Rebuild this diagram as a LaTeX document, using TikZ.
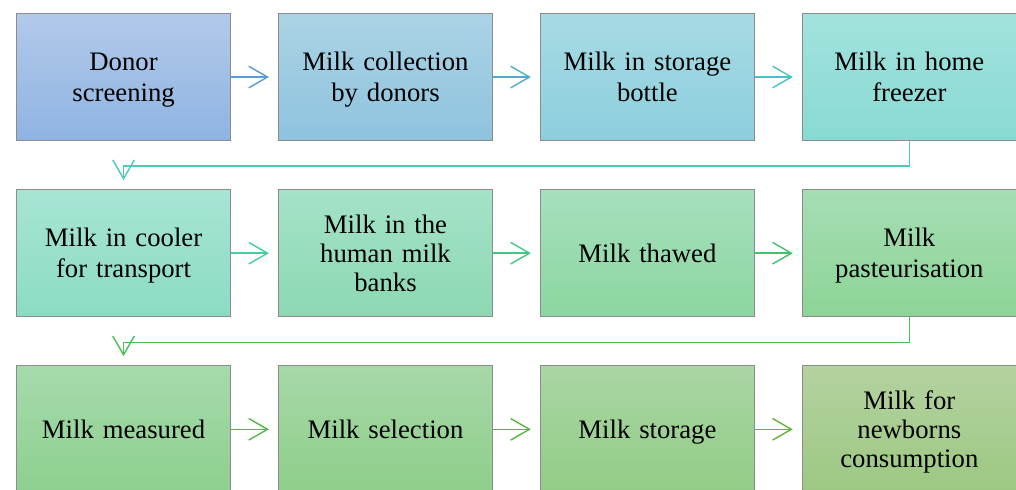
\documentclass[tikz,border=0pt]{standalone}
\usepackage{fontspec}
\setmainfont{Liberation Serif}
\usepackage{tikz}
\usetikzlibrary{positioning,arrows.meta}

% box shades, top and bottom
\definecolor{topA}{RGB}{178,201,234}\definecolor{botA}{RGB}{143,180,226}
\definecolor{topB}{RGB}{171,211,228}\definecolor{botB}{RGB}{142,195,222}
\definecolor{topC}{RGB}{166,219,227}\definecolor{botC}{RGB}{141,206,222}
\definecolor{topD}{RGB}{162,226,220}\definecolor{botD}{RGB}{137,218,212}
\definecolor{topE}{RGB}{167,228,212}\definecolor{botE}{RGB}{139,220,196}
\definecolor{topF}{RGB}{165,226,200}\definecolor{botF}{RGB}{140,216,178}
\definecolor{topG}{RGB}{166,224,190}\definecolor{botG}{RGB}{140,214,160}
\definecolor{topH}{RGB}{166,222,180}\definecolor{botH}{RGB}{140,212,150}
\definecolor{topI}{RGB}{166,218,172}\definecolor{botI}{RGB}{141,208,142}
\definecolor{topJ}{RGB}{167,216,168}\definecolor{botJ}{RGB}{142,206,138}
\definecolor{topK}{RGB}{170,214,164}\definecolor{botK}{RGB}{146,204,134}
\definecolor{topL}{RGB}{180,210,160}\definecolor{botL}{RGB}{156,200,130}
% arrow colours
\definecolor{arrA}{RGB}{91,155,213}
\definecolor{arrB}{RGB}{75,172,205}
\definecolor{arrC}{RGB}{70,195,200}
\definecolor{arrD}{RGB}{80,200,190}
\definecolor{arrE}{RGB}{70,205,160}
\definecolor{arrF}{RGB}{65,200,130}
\definecolor{arrG}{RGB}{65,195,110}
\definecolor{arrH}{RGB}{75,190,85}
\definecolor{arrI}{RGB}{80,185,70}
\definecolor{arrJ}{RGB}{85,185,65}
\definecolor{arrK}{RGB}{100,180,60}

\newcommand{\linestrut}{\rule[-4.1pt]{0pt}{21pt}}

\begin{document}
\begin{tikzpicture}[
        node distance=1.2cm and 1.17cm,
        font=\fontsize{19}{20.6}\selectfont,
        box/.style={draw=black!45, line width=0.8pt, minimum width=5.35cm,
            minimum height=3.175cm, text width=5.1cm, align=center,
            execute at begin node=\linestrut, execute at end node=\linestrut},
        flow/.style={line width=1pt, shorten >=0.225cm,
            -{Straight Barb[length=4.7mm, width=5.4mm, line width=1pt]}}
    ]
        \useasboundingbox (0,0) rectangle (25.4,-12.25);
        \clip (0,0) rectangle (25.4,-12.25);

        % Nodes
        \node[box, top color=topA, bottom color=botA, anchor=north west] (screen) at (0.4,-0.325) {Donor\\screening};
        \node[box, top color=topB, bottom color=botB, right=of screen] (collect) {Milk collection\\by donors};
        \node[box, top color=topC, bottom color=botC, right=of collect] (bottle) {Milk in storage\\bottle};
        \node[box, top color=topD, bottom color=botD, right=of bottle] (freezer) {Milk in home\\freezer};

        \node[box, top color=topE, bottom color=botE, below=of screen] (cooler) {Milk in cooler\\for transport};
        \node[box, top color=topF, bottom color=botF, right=of cooler] (bank) {Milk in the\\human milk\\banks};
        \node[box, top color=topG, bottom color=botG, right=of bank] (thawed) {Milk thawed};
        \node[box, top color=topH, bottom color=botH, right=of thawed] (pasteur) {Milk\\pasteurisation};

        \node[box, top color=topI, bottom color=botI, below=of cooler] (measured) {Milk measured};
        \node[box, top color=topJ, bottom color=botJ, right=of measured] (select) {Milk selection};
        \node[box, top color=topK, bottom color=botK, right=of select] (storage) {Milk storage};
        \node[box, top color=topL, bottom color=botL, right=of storage] (newborn) {Milk for\\newborns\\consumption};

        % Arrows along the rows
        \draw[flow, arrA] (screen) -- (collect);
        \draw[flow, arrB] (collect) -- (bottle);
        \draw[flow, arrC] (bottle) -- (freezer);
        \draw[flow, arrE] (cooler) -- (bank);
        \draw[flow, arrF] (bank) -- (thawed);
        \draw[flow, arrG] (thawed) -- (pasteur);
        \draw[flow, arrI] (measured) -- (select);
        \draw[flow, arrJ] (select) -- (storage);
        \draw[flow, arrK] (storage) -- (newborn);

        % Returns to the next row
        \draw[flow, arrD] (freezer.south) -- ++(0,-0.625) -| (cooler.north);
        \draw[flow, arrH] (pasteur.south) -- ++(0,-0.625) -| (measured.north);

    \end{tikzpicture}
\end{document}
